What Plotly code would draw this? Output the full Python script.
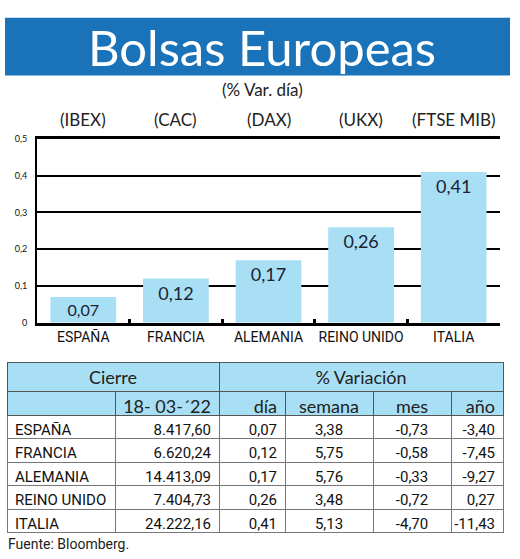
import plotly.graph_objects as go

W, H = 520, 559

paises = ['ESPAÑA', 'FRANCIA', 'ALEMANIA', 'REINO UNIDO', 'ITALIA']
indices = ['(IBEX)', '(CAC)', '(DAX)', '(UKX)', '(FTSE MIB)']
var_dia = [0.07, 0.12, 0.17, 0.26, 0.41]
cierre = [8417.60, 6620.24, 14413.09, 7404.73, 24222.16]
var_semana = [3.38, 5.75, 5.76, 3.48, 5.13]
var_mes = [-0.73, -0.58, -0.33, -0.72, -4.70]
var_anio = [-3.40, -7.45, -9.27, 0.27, -11.43]
y_ticks = [0, 0.1, 0.2, 0.3, 0.4, 0.5]
y_ticktext = ['0', '0,1', '0,2', '0,3', '0,4', '0,5']
fecha = '18-\u00a003-´22'

AZUL = '#1a72b9'
CELESTE = '#a9dff4'
NARROW = 'Roboto, Liberation Sans, sans-serif'
HUMAN = 'Lato, Open Sans, sans-serif'


def px_x(p):
    return p / W


def px_y(p):
    return 1 - p / H


def es(v):
    # formato español: 1.234,56
    s = f'{v:,.2f}'
    return s.replace(',', '#').replace('.', ',').replace('#', '.')


fig = go.Figure()

fig.add_trace(go.Bar(
    x=paises, y=var_dia,
    marker=dict(color=CELESTE, line=dict(width=0)),
    texttemplate='%{y:.2f}', textposition='inside', insidetextanchor='end',
    textangle=0, textfont=dict(family=HUMAN, size=18, color='#1b2333'),
    hoverinfo='skip',
))

# fila superior de cabecera (celdas agrupadas)
fig.add_trace(go.Table(
    domain=dict(x=[px_x(7), px_x(503)], y=[px_y(395), px_y(364)]),
    columnwidth=[212, 284],
    header=dict(values=['Cierre', '% Variación'], height=29, fill_color=CELESTE,
                line=dict(color='#555', width=1), align='center',
                font=dict(family=HUMAN, size=18, color='#222')),
    cells=dict(values=[[''], ['']], height=1, fill_color=CELESTE,
               line=dict(color=CELESTE, width=0)),
))

fig.add_trace(go.Table(
    domain=dict(x=[px_x(7), px_x(503)], y=[px_y(552), px_y(393)]),
    columnwidth=[108, 104, 66, 88, 78, 52],
    header=dict(values=['', fecha, 'día', 'semana', 'mes', 'año'], height=24,
                fill_color=CELESTE, line=dict(color='#555', width=1),
                align=['left', 'right', 'right', 'center', 'center', 'right'],
                font=dict(family=HUMAN, size=18, color='#222')),
    cells=dict(values=[[p.replace(' ', '\u00a0') for p in paises],
                       [es(v) for v in cierre], [es(v) for v in var_dia],
                       [es(v) for v in var_semana], [es(v) for v in var_mes],
                       [es(v) for v in var_anio]],
               height=23.5, fill_color='white', line=dict(color='#777', width=1),
               align=['left', 'right', 'right', 'center', 'center', 'right'],
               font=dict(family=NARROW, size=15, color='#111')),
))

annotations = [
    dict(text='Bolsas Europeas', x=px_x(262), y=px_y(42), xref='paper', yref='paper',
         yanchor='middle', showarrow=False,
         font=dict(family=HUMAN, size=49, color='white')),
    dict(text='(% Var. día)', x=px_x(262), y=px_y(85), xref='paper', yref='paper',
         yanchor='middle', showarrow=False,
         font=dict(family=HUMAN, size=17, color='#222')),
    dict(text='Fuente: Bloomberg.', x=px_x(6), y=px_y(549), xref='paper', yref='paper',
         xanchor='left', yanchor='middle', showarrow=False,
         font=dict(family=NARROW, size=14, color='#222')),
]
for p, idx in zip(paises, indices):
    annotations.append(dict(text=idx, x=p, xref='x', y=px_y(116), yref='paper',
                            yanchor='middle', showarrow=False,
                            font=dict(family=HUMAN, size=17, color='#222')))

fig.update_layout(
    width=W, height=H,
    margin=dict(l=0, r=0, t=0, b=0),
    paper_bgcolor='white', plot_bgcolor='white',
    showlegend=False, bargap=0.29,
    separators=',.',
    annotations=annotations,
    shapes=[dict(type='rect', xref='paper', yref='paper',
                 x0=px_x(5), x1=px_x(510), y0=px_y(71), y1=px_y(12),
                 fillcolor=AZUL, line=dict(width=0), layer='below')],
    xaxis=dict(domain=[px_x(37), px_x(500)], type='category',
               showline=True, linecolor='black', linewidth=2.5, mirror=True,
               tickson='boundaries', ticks='inside', ticklen=4, tickwidth=2.5,
               tickcolor='black', showgrid=False, tickangle=0,
               tickfont=dict(family=NARROW, size=14, color='#111')),
    yaxis=dict(domain=[px_y(323), px_y(135.7)], range=[0, 0.5],
               tickvals=y_ticks, ticktext=y_ticktext,
               showline=True, linecolor='black', linewidth=2,
               showgrid=True, gridcolor='black', gridwidth=1.5, zeroline=False,
               ticks='', ticklabelstandoff=6,
               tickfont=dict(family=HUMAN, size=9, color='#111')),
)

fig.write_html('out.html', config={'displayModeBar': False},
               post_script="document.body.style.margin='0';")
